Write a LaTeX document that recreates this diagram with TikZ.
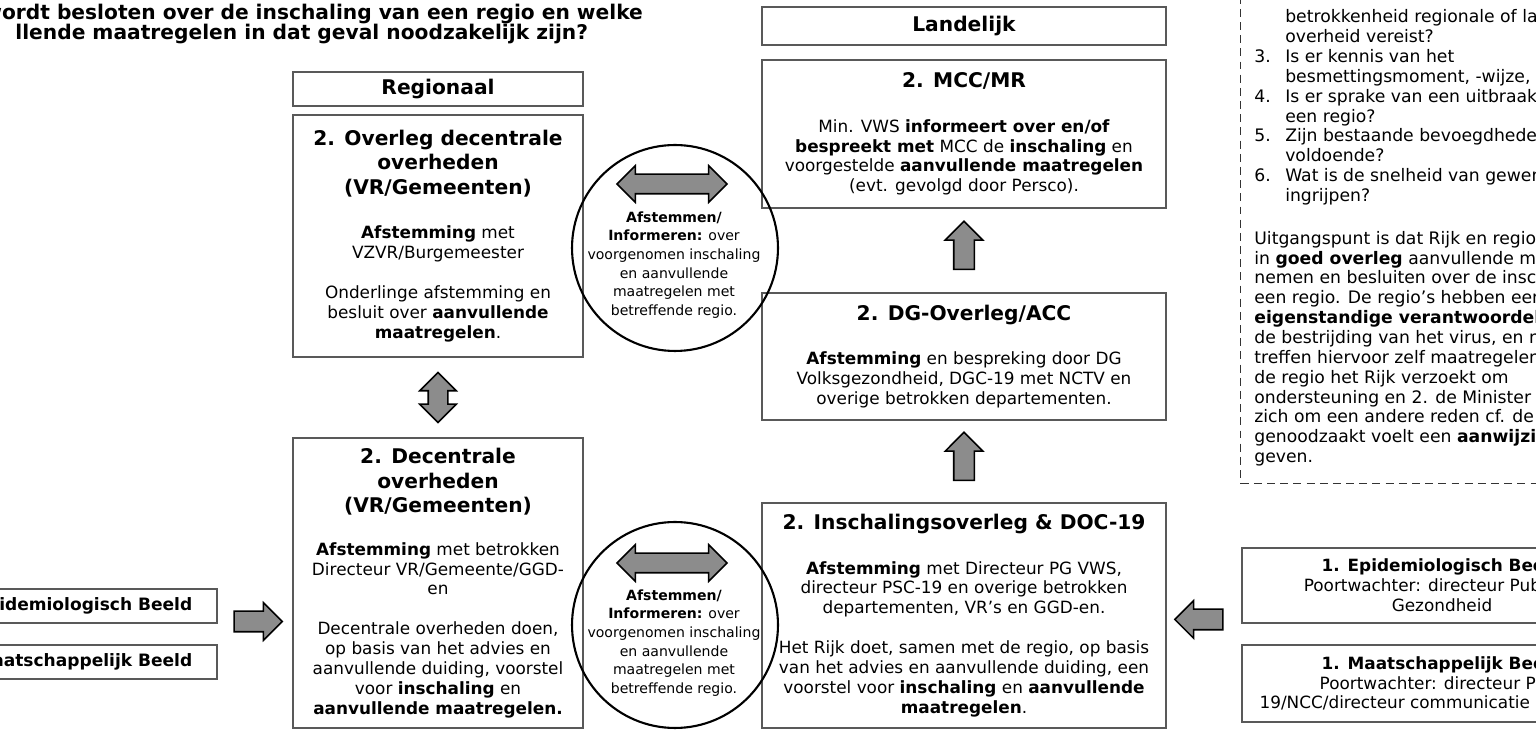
\documentclass[tikz,border=0pt]{standalone}
\usepackage{fontspec}
\setmainfont{DejaVu Sans}
\usetikzlibrary{shapes.arrows,positioning,calc}

\newcommand{\kopfont}{\fontsize{11.5}{13.9}\selectfont\bfseries}
\newcommand{\tekstfont}{\fontsize{9.6}{11.3}\selectfont}
\newcommand{\cirkelfont}{\fontsize{8}{10.6}\selectfont}
\newcommand{\notefont}{\fontsize{9.8}{11.3}\selectfont}
\newcommand{\beeldfont}{\fontsize{9.7}{11.3}\selectfont\bfseries}
\newcommand{\nr}[1]{\makebox[17.6pt][l]{#1}}

\begin{document}
\begin{tikzpicture}[x=0.02cm,y=-0.02cm,
    blok/.style={draw=black!65,line width=0.7pt,align=center,inner sep=0pt,font=\tekstfont},
    kop/.style={blok,font=\kopfont},
    pijl/.style={single arrow,draw=black,line width=0.9pt,fill=black!45,inner xsep=0pt,inner ysep=0.19cm,
      minimum width=0.72cm,single arrow head extend=0.17cm,minimum height=0.96cm},
    dubbelpijl/.style={double arrow,draw=black,line width=0.9pt,fill=black!45,inner xsep=0pt,inner ysep=0.18cm,
      minimum width=0.7cm,double arrow head extend=0.17cm},
    cirkel/.style={circle,draw=black,line width=1.2pt,minimum size=4.12cm,inner sep=0pt}]
\useasboundingbox (0,0) rectangle (1536,732);
\clip (0,0) rectangle (1536,732);

% vraag bovenaan
\node[anchor=base west,font=\kopfont,inner sep=0pt] (titel1) at (-17,20) {wordt besloten over de inschaling van een regio en welke};
\node[anchor=base west,font=\kopfont,inner sep=0pt] (titel2) at (15,40) {llende maatregelen in dat geval noodzakelijk zijn?};

% regionaal
\node[kop,minimum width=5.8cm,minimum height=0.68cm] (regionaal) at (438,89) {Regionaal};
\node[blok,minimum width=5.8cm,minimum height=4.84cm] (overleg) at (438,236)
  {{\kopfont 2. Overleg decentrale}\\[2.6pt]{\kopfont overheden}\\[2.6pt]{\kopfont (VR/Gemeenten)}\\[14pt]
   {\bfseries Afstemming} met\\VZVR/Burgemeester\\[11.3pt]
   Onderlinge afstemming en\\besluit over {\bfseries aanvullende}\\{\bfseries maatregelen}.};
\node[blok,minimum width=5.8cm,minimum height=5.8cm] (decentraal) at (438,583)
  {{\kopfont 2. Decentrale}\\[2.6pt]{\kopfont overheden}\\[2.6pt]{\kopfont (VR/Gemeenten)}\\[13pt]
   {\bfseries Afstemming} met betrokken\\Directeur VR/Gemeente/GGD-\\en\\[11.3pt]
   Decentrale overheden doen,\\op basis van het advies en\\aanvullende duiding, voorstel\\voor {\bfseries inschaling} en\\{\bfseries aanvullende maatregelen.}};

% landelijk
\node[kop,minimum width=8.08cm,minimum height=0.76cm] (landelijk) at (964,26) {Landelijk};
\node[blok,minimum width=8.08cm,minimum height=2.96cm] (mcc) at (964,134)
  {{\kopfont 2. MCC/MR}\\[14pt]
   Min. VWS {\bfseries informeert over en/of}\\{\bfseries bespreekt met} MCC de {\bfseries inschaling} en\\
   voorgestelde {\bfseries aanvullende maatregelen}\\(evt. gevolgd door Persco).};
\node[blok,minimum width=8.08cm,minimum height=2.54cm] (dg) at (964,356.5)
  {{\kopfont 2. DG-Overleg/ACC}\\[14pt]
   {\bfseries Afstemming} en bespreking door DG\\Volksgezondheid, DGC-19 met NCTV en\\overige betrokken departementen.};
\node[blok,minimum width=8.08cm,minimum height=4.5cm] (inschaling) at (964,615.5)
  {{\kopfont 2. Inschalingsoverleg \& DOC-19}\\[14pt]
   {\bfseries Afstemming} met Directeur PG VWS,\\directeur PSC-19 en overige betrokken\\departementen, VR’s en GGD-en.\\[11.3pt]
   Het Rijk doet, samen met de regio, op basis\\van het advies en aanvullende duiding, een\\
   voorstel voor {\bfseries inschaling} en {\bfseries aanvullende}\\{\bfseries maatregelen}.};

% beelden links en rechts
\node[blok,minimum width=5.24cm,minimum height=0.68cm] (epilinks) at (86,606) {};
\node[anchor=east,font=\beeldfont,inner sep=0pt] (epilinkstekst) at ([xshift=-0.5cm]epilinks.east) {Epidemiologisch Beeld};
\node[blok,minimum width=5.24cm,minimum height=0.68cm] (maatlinks) at (86,662) {};
\node[anchor=east,font=\beeldfont,inner sep=0pt] (maatlinkstekst) at ([xshift=-0.5cm]maatlinks.east) {Maatschappelijk Beeld};
\node[blok,minimum width=8cm,minimum height=1.5cm] (epirechts) at (1442,585.5)
  {{\bfseries 1. Epidemiologisch Beeld}\\Poortwachter: directeur Publieke\\Gezondheid};
\node[blok,minimum width=8cm,minimum height=1.54cm] (maatrechts) at (1442,683.5)
  {{\bfseries 1. Maatschappelijk Beeld}\\Poortwachter: directeur PSC-\\19/NCC/directeur communicatie\hspace*{5.6em}};

% pijlen
\node[pijl,rotate=90] (pijlmcc) at ($(dg.north)!0.5!(mcc.south)$) {};
\node[pijl,rotate=90] (pijldg) at ($(inschaling.north)!0.5!(dg.south)$) {};
\node[dubbelpijl,rotate=90,minimum height=1cm] (pijlregio) at ($(overleg.south)!0.5!(decentraal.north)$) {};
\node[pijl] (pijllinks) at ($(epilinks.east)!0.5!(decentraal.west)+(-2,27)$) {};
\node[pijl,rotate=180] (pijlrechts) at ($(inschaling.east)!0.5!(epirechts.west)+(0,19)$) {};

% afstemming tussen regionaal en landelijk
\node[cirkel] (cirkelboven) at (675,248) {};
\node[dubbelpijl,minimum height=2.2cm] (pijlboven) at (672,184) {};
\node[font=\cirkelfont,align=center,inner sep=0pt] (tekstboven) at (674,265)
  {{\bfseries Afstemmen/}\\{\bfseries Informeren:} over\\voorgenomen inschaling\\en aanvullende\\maatregelen met\\betreffende regio.};
\node[cirkel] (cirkelonder) at (675,625) {};
\node[dubbelpijl,minimum height=2.2cm] (pijlonder) at (672,563) {};
\node[font=\cirkelfont,align=center,inner sep=0pt] (tekstonder) at (674,643)
  {{\bfseries Afstemmen/}\\{\bfseries Informeren:} over\\voorgenomen inschaling\\en aanvullende\\maatregelen met\\betreffende regio.};

% toelichting rechtsboven
\node[draw=black!80,line width=0.8pt,dash pattern=on 4.5pt off 3pt,anchor=north west,
  minimum width=8cm,minimum height=10.06cm,inner sep=0pt] (kader) at (1240,-20) {};
\node[font=\notefont,align=left,anchor=west,inner sep=0pt] (toelichting) at (1254,238)
  {\nr{}betrokkenheid regionale of landelijke\\\nr{}overheid vereist?\\
   \nr{3.}Is er kennis van het\\\nr{}besmettingsmoment, -wijze, -plaats?\\
   \nr{4.}Is er sprake van een uitbraak in\\\nr{}een regio?\\
   \nr{5.}Zijn bestaande bevoegdheden\\\nr{}voldoende?\\
   \nr{6.}Wat is de snelheid van gewenst\\\nr{}ingrijpen?\\[13pt]
   Uitgangspunt is dat Rijk en regio\\in {\bfseries goed overleg} aanvullende maatregelen\\
   nemen en besluiten over de inschaling van\\een regio. De regio’s hebben een\\
   {\bfseries eigenstandige verantwoordelijkheid} voor\\de bestrijding van het virus, en nemen en\\
   treffen hiervoor zelf maatregelen, tenzij 1.\\de regio het Rijk verzoekt om\\
   ondersteuning en 2. de Minister van VWS\\zich om een andere reden cf. de Wpg\\
   genoodzaakt voelt een {\bfseries aanwijzing} te\\geven.};
\end{tikzpicture}
\end{document}
